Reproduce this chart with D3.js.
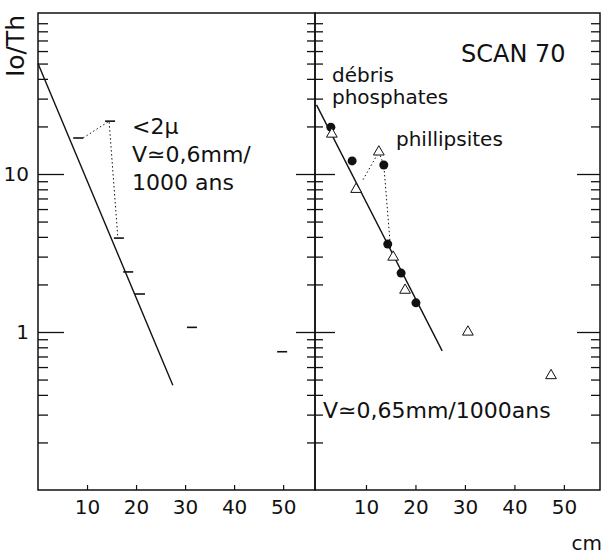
<!DOCTYPE html>
<html>
<head>
<meta charset="utf-8">
<script src="https://cdn.jsdelivr.net/npm/d3@7"></script>
<style>
  body { margin: 0; background: #fff; }
  text { font-family: "DejaVu Sans", sans-serif; fill: #111; }
</style>
</head>
<body>
<div id="main"></div>
<script>
//data
const xTicks = [10, 20, 30, 40, 50];
const yMajor = [1, 10];
const yMinor = [0.2, 0.3, 0.4, 0.5, 0.6, 0.7, 0.8, 0.9,
  2, 3, 4, 5, 6, 7, 8, 9,
  20, 30, 40, 50, 60, 70, 80, 90];

// left panel (< 2 micron fraction)
const leftLine = [[0, 50], [27.5, 0.46]];
const leftDashes = [[8.2, 16.9], [14.7, 21.6], [16.5, 3.93], [18.4, 2.4], [20.8, 1.74], [31.4, 1.07], [49.8, 0.75]];
const leftDotted = [[9.2, 16.9], [14.5, 21.6], [16.3, 3.9]];

// right panel (SCAN 70)
const rightLine = [[0, 27.4], [25.4, 0.76]];
const debris = [[2.9, 19.8], [7.2, 12.1], [13.6, 11.4], [14.4, 3.6], [17.1, 2.36], [20.1, 1.53]];
const phillipsites = [[3.1, 17.9], [8.0, 8.0], [12.6, 13.8], [15.5, 2.98], [17.9, 1.84], [30.6, 1.0], [47.4, 0.53]];
const rightDotted = [[9.4, 9.2], [12.6, 13.8], [13.6, 11.4], [15.0, 3.3]];

//layout
const W = 604, H = 555;
const yTop = 13, yBottom = 490;
const xL0 = 38, xMid = 315, xR1 = 600;

const svg = d3.select('#main')
  .append('svg')
  .attr('width', W)
  .attr('height', H);

//scales
const y = d3.scaleLog().domain([0.1, 100]).range([yBottom, 16]);
const xl = d3.scaleLinear().domain([0, 56.5]).range([xL0, xMid]);
const xr = d3.scaleLinear().domain([0, 57.3]).range([316.5, xR1]);

//frame
[[xL0, xMid], [xMid, xR1]].forEach(([a, b]) => {
  svg.append('rect')
    .attr('x', a).attr('y', yTop)
    .attr('width', b - a).attr('height', yBottom - yTop)
    .attr('fill', 'none')
    .attr('stroke', '#111')
    .attr('stroke-width', 1.5);
});

function noDomain(g) { g.select('.domain').remove(); }

function yTicks(gen, xPos, values, size, fmt) {
  const g = svg.append('g')
    .attr('transform', `translate(${xPos},0)`)
    .call(gen(y).tickValues(values).tickSize(size).tickPadding(9).tickFormat(fmt || (() => '')))
    .call(noDomain);
  g.selectAll('line').attr('stroke', '#111').attr('stroke-width', 1.3);
  return g;
}

// left edge: ticks inward, labels outside
yTicks(d3.axisLeft, xL0, yMajor, -26, d => d)
  .selectAll('text')
  .style('font-size', '20px')
  .attr('fill', '#111');
yTicks(d3.axisLeft, xL0, yMinor, -10);

// shared divider: ticks on both sides
yTicks(d3.axisLeft, xMid, yMajor, 19);
yTicks(d3.axisRight, xMid, yMajor, 20);
yTicks(d3.axisLeft, xMid, yMinor, 8);
yTicks(d3.axisRight, xMid, yMinor, 8);

// right edge: ticks inward
yTicks(d3.axisLeft, xR1, yMajor, 23);
yTicks(d3.axisLeft, xR1, yMinor, 9);

// x axes
[xl, xr].forEach(sc => {
  const g = svg.append('g')
    .attr('transform', `translate(0,${yBottom})`)
    .call(d3.axisBottom(sc).tickValues(xTicks).tickSize(-5).tickPadding(10))
    .call(noDomain);
  g.selectAll('line').attr('stroke', '#111').attr('stroke-width', 1.2);
  g.selectAll('text')
    .style('font-size', '20px')
    .attr('fill', '#111');
});

svg.append('text')
  .attr('x', 602).attr('y', 550)
  .attr('text-anchor', 'end')
  .style('font-size', '20px')
  .text('cm');

svg.append('text')
  .attr('transform', 'translate(24,46) rotate(-90)')
  .attr('text-anchor', 'middle')
  .style('font-size', '25px')
  .text('Io/Th');

//marks
const lineL = d3.line().x(d => xl(d[0])).y(d => y(d[1]));
const lineR = d3.line().x(d => xr(d[0])).y(d => y(d[1]));

svg.append('path').datum(leftLine)
  .attr('d', lineL).attr('fill', 'none')
  .attr('stroke', '#111').attr('stroke-width', 1.4);

svg.append('path').datum(leftDotted)
  .attr('d', lineL).attr('fill', 'none')
  .attr('stroke', '#111').attr('stroke-width', 1)
  .attr('stroke-dasharray', '1.5,2.5');

svg.selectAll('.dash')
  .data(leftDashes)
  .enter()
  .append('line')
  .attr('class', 'dash')
  .attr('x1', d => xl(d[0]) - 5)
  .attr('x2', d => xl(d[0]) + 5)
  .attr('y1', d => y(d[1]))
  .attr('y2', d => y(d[1]))
  .attr('stroke', '#111')
  .attr('stroke-width', 1.6);

svg.append('path').datum(rightLine)
  .attr('d', lineR).attr('fill', 'none')
  .attr('stroke', '#111').attr('stroke-width', 1.4);

svg.append('path').datum(rightDotted)
  .attr('d', lineR).attr('fill', 'none')
  .attr('stroke', '#111').attr('stroke-width', 1)
  .attr('stroke-dasharray', '1.5,2.5');

svg.selectAll('.dot')
  .data(debris)
  .enter()
  .append('circle')
  .attr('class', 'dot')
  .attr('cx', d => xr(d[0]))
  .attr('cy', d => y(d[1]))
  .attr('r', 4.5)
  .attr('fill', '#111');

const tri = d3.symbol(d3.symbolTriangle, 50);
svg.selectAll('.tri')
  .data(phillipsites)
  .enter()
  .append('path')
  .attr('class', 'tri')
  .attr('transform', d => `translate(${xr(d[0])},${y(d[1])})`)
  .attr('d', tri)
  .attr('fill', '#fff')
  .attr('stroke', '#111')
  .attr('stroke-width', 1);

//annotations
const notes = [
  {x: 132, y: 134, s: 22, t: '<2\u03bc'},
  {x: 132, y: 162, s: 22, t: 'V\u22430,6mm/'},
  {x: 132, y: 190, s: 22, t: '1000 ans'},
  {x: 461, y: 62, s: 24, t: 'SCAN 70'},
  {x: 332, y: 82, s: 20, t: 'd\u00e9bris'},
  {x: 332, y: 104, s: 20, t: 'phosphates'},
  {x: 396, y: 146, s: 20, t: 'phillipsites'},
  {x: 323, y: 418, s: 22, t: 'V\u22430,65mm/1000ans'}
];

svg.selectAll('.note')
  .data(notes)
  .enter()
  .append('text')
  .attr('class', 'note')
  .attr('x', d => d.x)
  .attr('y', d => d.y)
  .style('font-size', d => d.s + 'px')
  .text(d => d.t);
</script>
</body>
</html>
